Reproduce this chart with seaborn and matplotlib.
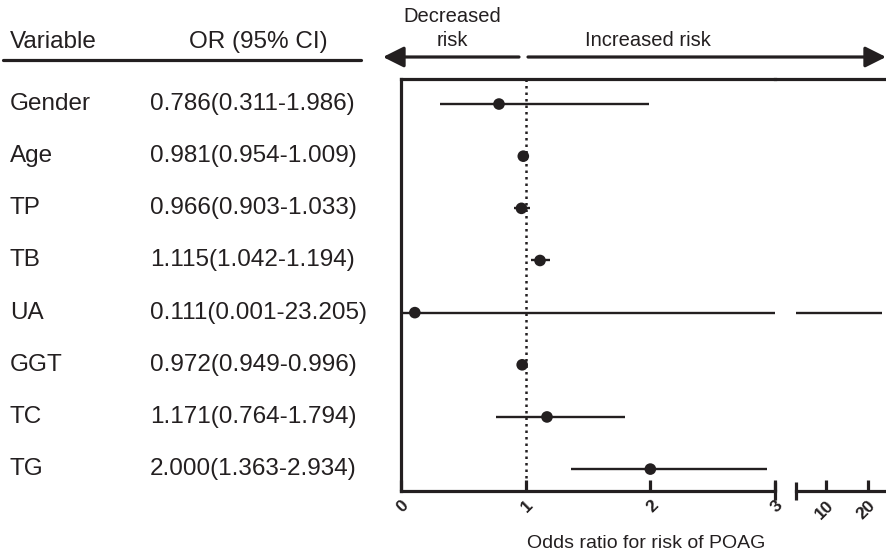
import numpy as np
import pandas as pd
import matplotlib
matplotlib.use('Agg')
import matplotlib.pyplot as plt
import matplotlib.transforms as mtransforms
from matplotlib.patches import FancyArrowPatch
import seaborn as sns

variables = ['Gender', 'Age', 'TP', 'TB', 'UA', 'GGT', 'TC', 'TG']
odds = [0.786, 0.981, 0.966, 1.115, 0.111, 0.972, 1.171, 2.000]
lower = [0.311, 0.954, 0.903, 1.042, 0.001, 0.949, 0.764, 1.363]
upper = [1.986, 1.009, 1.033, 1.194, 23.205, 0.996, 1.794, 2.934]
ci_text = ['0.786(0.311-1.986)', '0.981(0.954-1.009)', '0.966(0.903-1.033)',
           '1.115(1.042-1.194)', '0.111(0.001-23.205)', '0.972(0.949-0.996)',
           '1.171(0.764-1.794)', '2.000(1.363-2.934)']
left_ticks = [0, 1, 2, 3]
right_ticks = [10, 20]

df = pd.DataFrame({'var': variables, 'or': odds, 'lo': lower, 'hi': upper,
                   'txt': ci_text})
df['row'] = np.arange(len(df))

sns.set_style('white')
plt.rcParams['font.family'] = ['Liberation Sans', 'DejaVu Sans']
ink = '#231f20'

W, H = 887, 554
fig = plt.figure(figsize=(W / 100, H / 100), dpi=100)

def fx(px):
    return px / W

def fy(py):
    return 1 - py / H

ax1 = fig.add_axes([fx(401), fy(491), fx(775 - 401), (491 - 79) / H])
ax2 = fig.add_axes([fx(775), fy(491), fx(887 - 775), (491 - 79) / H])
ax2.patch.set_visible(False)

ylim = (7.42, -0.48)
for ax in (ax1, ax2):
    ax.set_ylim(*ylim)
    ax.set_yticks([])
    for s in ax.spines.values():
        s.set_linewidth(2.3)
        s.set_color(ink)
    ax.spines['right'].set_visible(False)
    ax.tick_params(axis='x', bottom=True, direction='in', length=8, width=2.3,
                   color=ink, labelsize=12.5, pad=5)
ax2.spines['left'].set_visible(False)

ax1.set_xlim(0, 3)
ax2.set_xlim(-2.1, 24.5)
ax2.spines['bottom'].set_bounds(3, 24.5)

# confidence intervals
ax1.hlines(df['row'], df['lo'], df['hi'].clip(upper=3), color=ink, lw=1.7)
big = df[df['hi'] > 3]
ax2.hlines(big['row'], 3, big['hi'], color=ink, lw=1.7)

# reference line at OR = 1
ax1.axvline(1, color=ink, lw=1.8, ls=(0, (1, 1.6)), zorder=1)

sns.scatterplot(data=df, x='or', y='row', ax=ax1, color=ink, s=70,
                edgecolor='none', zorder=3, clip_on=False, legend=False)
ax1.set_xlabel('')
ax1.set_ylabel('')

# end caps of the broken axis
for ax in (ax1, ax2):
    ax.plot([3], [ylim[0]], marker='|', ms=13, mew=2.3, color=ink,
            clip_on=False, zorder=5)

ax1.set_xticks(left_ticks)
ax2.set_xticks(right_ticks)
for ax in (ax1, ax2):
    ax.set_xticklabels([str(t) for t in ax.get_xticks().astype(int)],
                       rotation=45, ha='right', va='top',
                       rotation_mode='anchor', fontweight='bold', color=ink)

fig.text(fx(646), fy(543), 'Odds ratio for risk of POAG', ha='center',
         va='center', fontsize=14, color=ink)

# left-side table
tr = mtransforms.blended_transform_factory(fig.transFigure, ax1.transData)
for _, r in df.iterrows():
    fig.text(fx(10), r['row'], r['var'], transform=tr, ha='left',
             va='center', fontsize=17.5, color=ink)
    fig.text(fx(150), r['row'], r['txt'], transform=tr, ha='left',
             va='center', fontsize=17.5, color=ink)

fig.text(fx(10), fy(42), 'Variable', ha='left', va='center', fontsize=17.5,
         color=ink)
fig.text(fx(258), fy(42), 'OR (95% CI)', ha='center', va='center',
         fontsize=17.5, color=ink)
fig.add_artist(plt.Line2D([fx(3), fx(361)], [fy(60), fy(60)], color=ink,
                          lw=2.3, transform=fig.transFigure))

# risk direction arrows
fig.text(fx(452), fy(17), 'Decreased', ha='center', va='center',
         fontsize=14.5, color=ink)
fig.text(fx(452), fy(40), 'risk', ha='center', va='center', fontsize=14.5,
         color=ink)
fig.text(fx(648), fy(40), 'Increased risk', ha='center', va='center',
         fontsize=14.5, color=ink)
arrow = dict(arrowstyle='-|>,head_length=0.9,head_width=0.45', lw=2.3,
             color=ink, shrinkA=0, shrinkB=0, mutation_scale=14,
             transform=fig.transFigure)
fig.add_artist(FancyArrowPatch((fx(519), fy(57)), (fx(383), fy(57)), **arrow))
fig.add_artist(FancyArrowPatch((fx(528), fy(57)), (fx(886), fy(57)), **arrow))

fig.savefig('out.png', dpi=100)
